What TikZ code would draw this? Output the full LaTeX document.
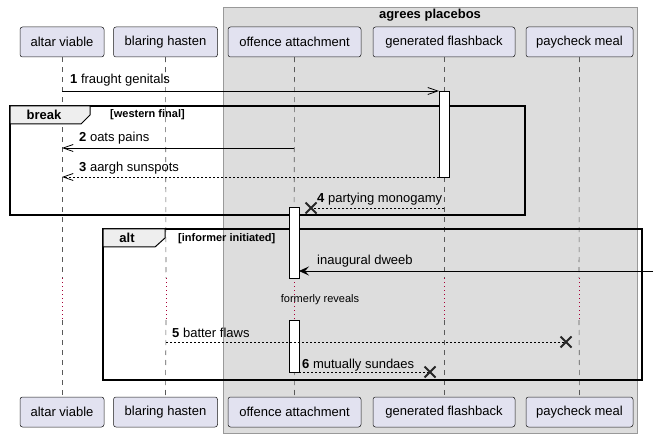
\documentclass[tikz,border=0pt]{standalone}
\usepackage{fontspec}
\setmainfont{Liberation Sans}
\usetikzlibrary{arrows.meta,calc}
\definecolor{partfill}{HTML}{E2E2F0}
\definecolor{partdraw}{HTML}{181818}
\definecolor{boxfill}{HTML}{DDDDDD}
\definecolor{boxdraw}{HTML}{999999}
\definecolor{lblfill}{HTML}{EEEEEE}
\definecolor{delayred}{HTML}{A80036}
\tikzset{
  part/.style={draw=partdraw, line width=0.5pt, fill=partfill, rounded corners=2.5pt,
    minimum height=30pt, inner sep=0pt, font=\fontsize{13}{15}\selectfont},
  life/.style={draw=black!65, line width=0.6pt, dash pattern=on 5pt off 5pt},
  delayline/.style={draw=delayred, line width=0.8pt, dash pattern=on 1pt off 3pt},
  frameline/.style={draw=black, line width=1.5pt},
  framelbl/.style={fill=lblfill, draw=black, line width=1pt},
  framelbltxt/.style={font=\fontsize{13}{15}\selectfont\bfseries, inner sep=0pt},
  condtxt/.style={font=\fontsize{11}{13}\selectfont\bfseries, inner sep=0pt, anchor=west},
  act/.style={draw=black, fill=white, line width=0.8pt},
  msg/.style={draw=black, line width=0.8pt},
  dmsg/.style={msg, dash pattern=on 2pt off 2pt},
  openhead/.style={-{Straight Barb[length=10pt,width=7pt,line width=0.8pt]}},
  fullhead/.style={-{Stealth[length=10pt,width=9pt,inset=4pt]}},
  msgtxt/.style={font=\fontsize{13}{15}\selectfont, inner sep=0pt, anchor=base west},
  xmark/.style={draw=black!85, line width=1.8pt},
}
\begin{document}
\begin{tikzpicture}[x=1pt,y=-1pt]
\useasboundingbox (0,0) rectangle (658,438);
% group box
\draw[fill=boxfill, draw=boxdraw, line width=0.8pt] (223,7) rectangle (637,433);
\node[font=\fontsize{13}{15}\selectfont\bfseries, inner sep=0pt] (grp) at (430,15) {agrees placebos};

% participants top
\node[part, minimum width=84pt] (avT) at (62,42) {altar viable};
\node[part, minimum width=104pt] (bhT) at (165.5,42) {blaring hasten};
\node[part, minimum width=133pt] (oaT) at (294.5,42) {offence attachment};
\node[part, minimum width=142pt] (gfT) at (444,42) {generated flashback};
\node[part, minimum width=107pt] (pmT) at (579.5,42) {paycheck meal};
% participants bottom
\node[part, minimum width=84pt] (avB) at (62,412) {altar viable};
\node[part, minimum width=104pt] (bhB) at (165.5,412) {blaring hasten};
\node[part, minimum width=133pt] (oaB) at (294.5,412) {offence attachment};
\node[part, minimum width=142pt] (gfB) at (444,412) {generated flashback};
\node[part, minimum width=107pt] (pmB) at (579.5,412) {paycheck meal};

% lifelines with delay
\foreach \p/\x in {av/62, bh/166, oa/294, gf/444, pm/579}{
  \coordinate (\p d1) at (\x,278);
  \coordinate (\p d2) at (\x,320);
  \draw[life] (\p T.south) -- (\p d1);
  \draw[delayline] (\p d1) -- (\p d2);
  \draw[life] (\p d2) -- (\p B.north);
}
\node[font=\fontsize{11}{13}\selectfont, inner sep=0pt] (delay) at (320,300) {formerly reveals};

% frames
\draw[frameline] (10,106) rectangle (525,215);
\draw[framelbl] (10,106) -- (90,106) -- (90,115) -- (81,124) -- (10,124) -- cycle;
\node[framelbltxt] (brk) at (44,115) {break};
\node[condtxt] (brkc) at (110,115) {[western final]};

\draw[frameline] (103,229) rectangle (642,380);
\draw[framelbl] (103,229) -- (165,229) -- (165,238) -- (155,247) -- (103,247) -- cycle;
\node[framelbltxt] (alt) at (127,238) {alt};
\node[condtxt] (altc) at (178,239) {[informer initiated]};

% activations
\draw[act] (439,91) rectangle (449,177);
\draw[act] (289,207) rectangle (299,278);
\draw[act] (289,320) rectangle (299,372);

% message coordinates
\coordinate (m1a) at (62,91);   \coordinate (m1b) at (439,91);
\coordinate (m2a) at (294,148); \coordinate (m2b) at (62,148);
\coordinate (m3a) at (439,177); \coordinate (m3b) at (62,177);
\coordinate (m4a) at (444,208); \coordinate (m4x) at (311,208);
\coordinate (m5a) at (653,271); \coordinate (m5b) at (299,271);
\coordinate (m6a) at (166,342); \coordinate (m6x) at (566,342);
\coordinate (m7a) at (299,372); \coordinate (m7x) at (430,372);

% messages
\draw[msg, openhead] (m1a) -- (m1b);
\node[msgtxt] (t1) at (70,84) {\textbf{1} fraught genitals};
\draw[msg, openhead] (m2a) -- (m2b);
\node[msgtxt] (t2) at (79,142) {\textbf{2} oats pains};
\draw[dmsg, openhead] (m3a) -- (m3b);
\node[msgtxt] (t3) at (79,172) {\textbf{3} aargh sunspots};
\draw[dmsg] (m4a) -- (m4x);
\draw[xmark] ($(m4x)+(-5.5,-5.5)$) -- ($(m4x)+(5.5,5.5)$) ($(m4x)+(-5.5,5.5)$) -- ($(m4x)+(5.5,-5.5)$);
\node[msgtxt] (t4) at (317,203) {\textbf{4} partying monogamy};
\draw[msg, fullhead] (m5a) -- (m5b);
\node[msgtxt] (t5) at (317,265) {inaugural dweeb};
\draw[dmsg] (m6a) -- (m6x);
\draw[xmark] ($(m6x)+(-5.5,-5.5)$) -- ($(m6x)+(5.5,5.5)$) ($(m6x)+(-5.5,5.5)$) -- ($(m6x)+(5.5,-5.5)$);
\node[msgtxt] (t6) at (172,337) {\textbf{5} batter flaws};
\draw[dmsg] (m7a) -- (m7x);
\draw[xmark] ($(m7x)+(-5.5,-5.5)$) -- ($(m7x)+(5.5,5.5)$) ($(m7x)+(-5.5,5.5)$) -- ($(m7x)+(5.5,-5.5)$);
\node[msgtxt] (t7) at (302,368) {\textbf{6} mutually sundaes};
\end{tikzpicture}
\end{document}
